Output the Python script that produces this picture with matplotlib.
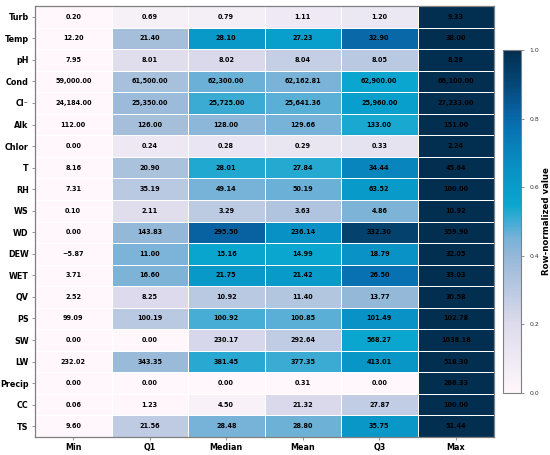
import numpy as np
import matplotlib
matplotlib.use("Agg")
import matplotlib.pyplot as plt
from matplotlib.colors import LinearSegmentedColormap

variables = ["Turb", "Temp", "pH", "Cond", "Cl\u207b", "Alk", "Chlor", "T", "RH", "WS",
             "WD", "DEW", "WET", "QV", "PS", "SW", "LW", "Precip", "CC", "TS"]
stats = ["Min", "Q1", "Median", "Mean", "Q3", "Max"]

v_min = [0.20, 12.20, 7.95, 59000.00, 24184.00, 112.00, 0.00, 8.16, 7.31, 0.10,
         0.00, -5.87, 3.71, 2.52, 99.09, 0.00, 232.02, 0.00, 0.06, 9.60]
v_q1 = [0.69, 21.40, 8.01, 61500.00, 25350.00, 126.00, 0.24, 20.90, 35.19, 2.11,
        143.83, 11.00, 16.60, 8.25, 100.19, 0.00, 343.35, 0.00, 1.23, 21.56]
v_median = [0.79, 28.10, 8.02, 62300.00, 25725.00, 128.00, 0.28, 28.01, 49.14, 3.29,
            295.50, 15.16, 21.75, 10.92, 100.92, 230.17, 381.45, 0.00, 4.50, 28.48]
v_mean = [1.11, 27.23, 8.04, 62162.81, 25641.36, 129.66, 0.29, 27.84, 50.19, 3.63,
          236.14, 14.99, 21.42, 11.40, 100.85, 292.64, 377.35, 0.31, 21.32, 28.80]
v_q3 = [1.20, 32.90, 8.05, 62900.00, 25960.00, 133.00, 0.33, 34.44, 63.52, 4.86,
        332.30, 18.79, 26.50, 13.77, 101.49, 568.27, 413.01, 0.00, 27.87, 35.75]
v_max = [9.33, 38.00, 8.28, 66100.00, 27233.00, 151.00, 2.24, 45.64, 100.00, 10.92,
         359.90, 32.05, 33.03, 30.58, 102.78, 1038.18, 518.30, 286.33, 100.00, 51.44]

data = np.array([v_min, v_q1, v_median, v_mean, v_q3, v_max]).T
rmin = data.min(axis=1, keepdims=True)
rmax = data.max(axis=1, keepdims=True)
norm = (data - rmin) / (rmax - rmin)

cmap = LinearSegmentedColormap.from_list("custom", [
    (0.00, "#fff7fb"),
    (0.20, "#dddbec"),
    (0.35, "#a8c0dc"),
    (0.40, "#94b8d8"),
    (0.45, "#78b2d8"),
    (0.55, "#0aa6cf"),
    (0.62, "#0898c8"),
    (0.66, "#0890c4"),
    (0.78, "#0870b0"),
    (0.82, "#0862a2"),
    (0.92, "#04426e"),
    (1.00, "#022e50"),
])

fig = plt.figure(figsize=(5.5, 4.55), dpi=100)
ax = fig.add_axes([35/550, 1 - 437/455, (494-35)/550, (437-6)/455])
cax = fig.add_axes([503/550, 1 - 393/455, 18/550, (393-50)/455])

nr, nc = data.shape
mesh = ax.pcolormesh(np.arange(nc+1), np.arange(nr+1), norm, cmap=cmap,
                     vmin=0, vmax=1, edgecolors="white", linewidth=0.7)
ax.set_xlim(0, nc)
ax.set_ylim(nr, 0)
ax.set_xticks(np.arange(nc) + 0.5)
ax.set_xticklabels(stats, fontsize=5.8, fontweight="bold")
ax.set_yticks(np.arange(nr) + 0.5)
ax.set_yticklabels(variables, fontsize=5.8, fontweight="bold")
ax.tick_params(length=2.5, width=0.6, pad=2, color="gray")
for s in ax.spines.values():
    s.set_color("gray")
    s.set_linewidth(0.9)

for i in range(nr):
    for j in range(nc):
        val = data[i, j]
        if abs(val) >= 10000:
            txt = f"{val:,.2f}"
        else:
            txt = f"{val:.2f}"
        txt = txt.replace("-", "\u2212")
        ax.text(j + 0.5, i + 0.5, txt, ha="center", va="center",
                fontsize=4.7, fontweight="bold", color="black")

cb = fig.colorbar(mesh, cax=cax)
cb.set_ticks([0.0, 0.2, 0.4, 0.6, 0.8, 1.0])
cb.ax.tick_params(labelsize=4.4, length=2.5, width=0.6, color="gray", labelcolor="#333333")
cb.outline.set_edgecolor("gray")
cb.outline.set_linewidth(0.8)
cb.set_label("Row-normalized value", fontsize=6.2, fontweight="bold", labelpad=2)

fig.savefig("out.png", dpi=100)
